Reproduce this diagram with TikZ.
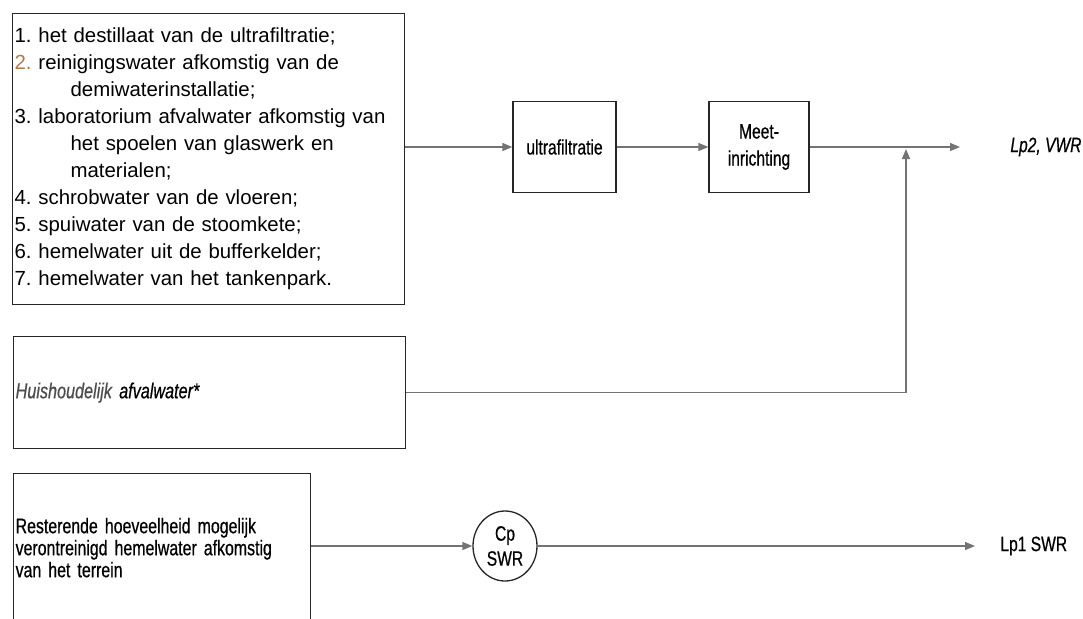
\documentclass[tikz,border=0pt]{standalone}
\usepackage{fontspec}
\setmainfont{Liberation Sans}
\newfontfamily\narrowsf[FakeStretch=0.75,FakeBold=0.6]{Liberation Sans}
\usetikzlibrary{arrows.meta,shapes.geometric}
\definecolor{numtwo}{HTML}{B07A4A}
\frenchspacing

\begin{document}
\begin{tikzpicture}[x=0.5pt, y=-0.5pt,
  box/.style={draw=black!85, line width=0.65pt, inner sep=1pt},
  flow/.style={draw=black!55, line width=0.65pt, -{Triangle[length=5pt,width=4pt]}},
  lbl/.style={font=\narrowsf\fontsize{10.4pt}{11pt}\selectfont, align=center}]
  \clip (0,0) rectangle (1083,618);
  % bronnen en behandeling
  \node[box, anchor=north west, minimum height=145.5pt, text width=194pt, align=left,
        font=\fontsize{10.2pt}{13.5pt}\selectfont] (src) at (12,13) {%
    1. het destillaat van de ultrafiltratie;\\
    {\color{numtwo}2.} reinigingswater afkomstig van de\\
    \hspace*{28pt}demiwaterinstallatie;\\
    3. laboratorium afvalwater afkomstig van\\
    \hspace*{28pt}het spoelen van glaswerk en\\
    \hspace*{28pt}materialen;\\
    4. schrobwater van de vloeren;\\
    5. spuiwater van de stoomkete;\\
    6. hemelwater uit de bufferkelder;\\
    7. hemelwater van het tankenpark.};
  \node[box, lbl, minimum width=51.5pt, minimum height=45.5pt] (uf) at (564.5,147) {ultrafiltratie};
  \node[box, lbl, minimum width=50pt, minimum height=45.5pt,
        font=\narrowsf\fontsize{10.4pt}{13.5pt}\selectfont] (meet) at (759,147) {Meet-\\inrichting};
  \node[box, anchor=north west, minimum height=56pt, text width=194pt, align=left,
        font=\narrowsf\itshape\fontsize{10.8pt}{11pt}\selectfont] (hh) at (13,336) {%
    {\color{black!70}Huishoudelijk} afvalwater*};
  \node[box, anchor=north west, minimum height=74pt, text width=146.5pt, align=left,
        font=\narrowsf\fontsize{10.6pt}{11pt}\selectfont] (rest) at (13,473) {%
    Resterende hoeveelheid mogelijk\\
    verontreinigd hemelwater afkomstig\\
    van het terrein};
  \node[draw=black!85, line width=0.65pt, ellipse, minimum width=32pt, minimum height=35pt,
        inner sep=0pt, lbl, font=\narrowsf\fontsize{10.4pt}{12.5pt}\selectfont] (cp) at (505,546) {Cp\\SWR};
  % lozingspunten
  \coordinate (vwr) at (960,147);
  \coordinate (join) at (906,147);
  \coordinate (swr) at (975,546);
  \node[lbl, anchor=west, inner sep=0pt, font=\narrowsf\itshape\fontsize{10.4pt}{11pt}\selectfont] (vwrlbl) at (1010,147) {Lp2, VWR};
  \node[lbl, anchor=west, inner sep=0pt] (swrlbl) at (1000,546) {Lp1 SWR};
  \draw[flow] (src.east |- uf.west) -- (uf.west);
  \draw[flow] (uf) -- (meet);
  \draw[flow] (meet) -- (vwr);
  \draw[flow, shorten >=1pt] (hh.east) -| (join);
  \draw[flow] (rest.east |- cp.west) -- (cp.west);
  \draw[flow] (cp.east) -- (swr);
\end{tikzpicture}
\end{document}
